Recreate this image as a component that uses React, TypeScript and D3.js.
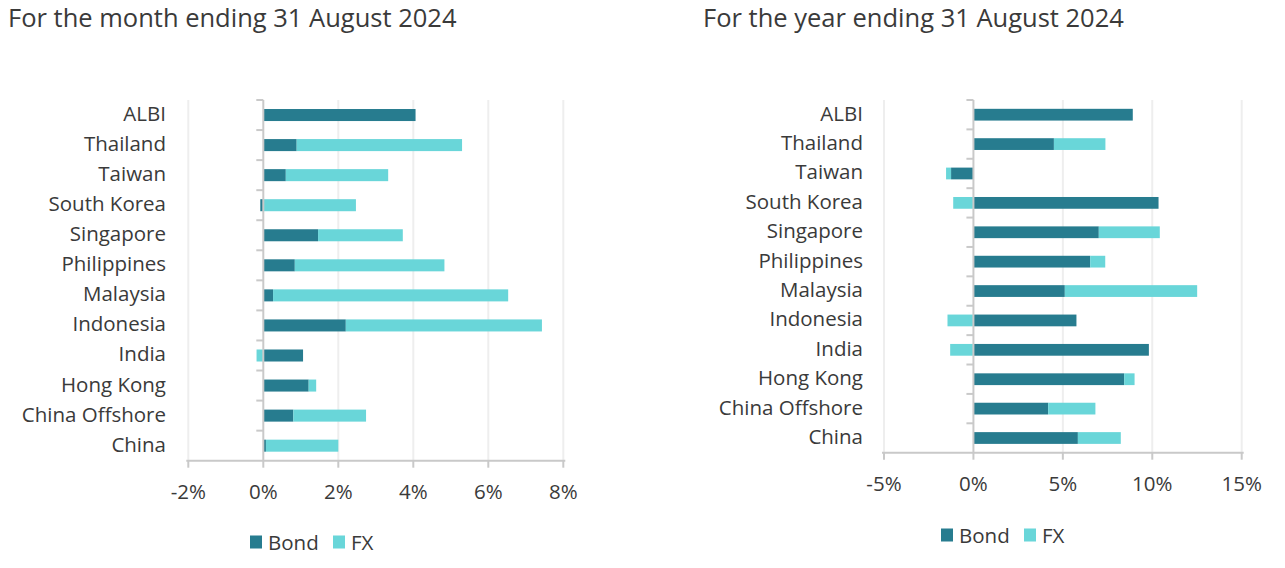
import React from "react";
import * as d3 from "d3";

const categories = ["ALBI", "Thailand", "Taiwan", "South Korea", "Singapore", "Philippines", "Malaysia", "Indonesia", "India", "Hong Kong", "China Offshore", "China"];
const monthBond = [4.06, 0.89, 0.6, -0.08, 1.46, 0.84, 0.26, 2.2, 1.06, 1.21, 0.8, 0.07];
const monthFx = [0, 4.41, 2.73, 2.47, 2.26, 3.99, 6.27, 5.23, -0.18, 0.2, 1.94, 1.93];
const yearBond = [8.91, 4.5, -1.25, 10.35, 7.01, 6.53, 5.11, 5.76, 9.81, 8.43, 4.18, 5.84];
const yearFx = [0, 2.88, -0.28, -1.13, 3.41, 0.84, 7.4, -1.45, -1.3, 0.58, 2.64, 2.4];
const monthTicks = [-2, 0, 2, 4, 6, 8];
const yearTicks = [-5, 0, 5, 10, 15];
const seriesNames = ["Bond", "FX"];
const monthTitle = "For the month ending 31 August 2024";
const yearTitle = "For the year ending 31 August 2024";

const COLORS = ["#277C8F", "#69D6D9"];
const AXIS = "#C9C9C9";
const GRID = "#EEEEEE";
const TEXT = "#3A3A3A";
const FONT = "'Open Sans', sans-serif";

type ChartProps = {
  title: string;
  titleX: number;
  bond: number[];
  fx: number[];
  ticks: number[];
  x0: number;
  x1: number;
  y0: number;
  y1: number;
  labelX: number;
  tickLabelY: number;
  legendX: number;
  legendY: number;
};

function Chart(p: ChartProps) {
  const x = d3.scaleLinear().domain([p.ticks[0], p.ticks[p.ticks.length - 1]]).range([p.x0, p.x1]);
  const y = d3.scaleBand<string>().domain(categories).range([p.y0, p.y1]).paddingInner(0.6).paddingOuter(0.3);
  const yb = d3.scaleBand<string>().domain(categories).range([p.y0, p.y1]);
  const rows = categories.map((c, i) => ({ cat: c, Bond: p.bond[i], FX: p.fx[i] }));
  const stacked = d3.stack<any>().keys(seriesNames).offset(d3.stackOffsetDiverging)(rows);
  const zx = x(0);
  return (
    <g>
      <text x={p.titleX} y={27} fontSize={25.5} fill={TEXT} fontFamily={FONT}>{p.title}</text>
      {p.ticks.filter((t) => t !== 0).map((t) => (
        <line key={"g" + t} x1={x(t)} x2={x(t)} y1={p.y0} y2={p.y1} stroke={GRID} strokeWidth={2} />
      ))}
      {stacked.map((s, si) => (
        <g key={s.key} fill={COLORS[si]}>
          {s.map((d, i) => {
            const a = x(d[0]);
            const b = x(d[1]);
            return (
              <rect key={i} x={Math.min(a, b)} width={Math.abs(b - a)} y={y(categories[i])!} height={y.bandwidth()} />
            );
          })}
        </g>
      ))}
      <line x1={zx} x2={zx} y1={p.y0} y2={p.y1} stroke={AXIS} strokeWidth={2} />
      {categories.map((c) => (
        <line key={"t" + c} x1={zx - 7} x2={zx} y1={yb(c)!} y2={yb(c)!} stroke={AXIS} strokeWidth={2} />
      ))}
      <line x1={p.x0 - 2} x2={p.x1 + 2} y1={p.y1} y2={p.y1} stroke={AXIS} strokeWidth={2} />
      {p.ticks.map((t) => (
        <g key={"x" + t}>
          <line x1={x(t)} x2={x(t)} y1={p.y1} y2={p.y1 + 7} stroke={AXIS} strokeWidth={2} />
          <text x={x(t)} y={p.tickLabelY} textAnchor="middle" dominantBaseline="central" fontSize={20.5} fill={TEXT} fontFamily={FONT}>
            {t + "%"}
          </text>
        </g>
      ))}
      {categories.map((c) => (
        <text key={"l" + c} x={p.labelX} y={yb(c)! + yb.bandwidth() / 2 - 2} textAnchor="end" dominantBaseline="central" fontSize={20.5} fill={TEXT} fontFamily={FONT}>
          {c}
        </text>
      ))}
      <g transform={`translate(${p.legendX},${p.legendY})`}>
        <rect x={0} y={-6.5} width={12} height={13} fill={COLORS[0]} />
        <text x={18} y={0} dominantBaseline="central" fontSize={20.5} fill={TEXT} fontFamily={FONT}>{seriesNames[0]}</text>
        <rect x={83} y={-6.5} width={12} height={13} fill={COLORS[1]} />
        <text x={101} y={0} dominantBaseline="central" fontSize={20.5} fill={TEXT} fontFamily={FONT}>{seriesNames[1]}</text>
      </g>
    </g>
  );
}

export default function App() {
  return (
    <svg width={1285} height={568} style={{ position: "absolute", left: 0, top: 0, background: "#fff" }}>
      <Chart title={monthTitle} titleX={8} bond={monthBond} fx={monthFx} ticks={monthTicks}
        x0={188.3} x1={563.3} y0={100} y1={460.7} labelX={166} tickLabelY={491} legendX={250} legendY={542} />
      <Chart title={yearTitle} titleX={703} bond={yearBond} fx={yearFx} ticks={yearTicks}
        x0={884} x1={1241.7} y0={100} y1={452.7} labelX={863} tickLabelY={483} legendX={941} legendY={535} />
    </svg>
  );
}
